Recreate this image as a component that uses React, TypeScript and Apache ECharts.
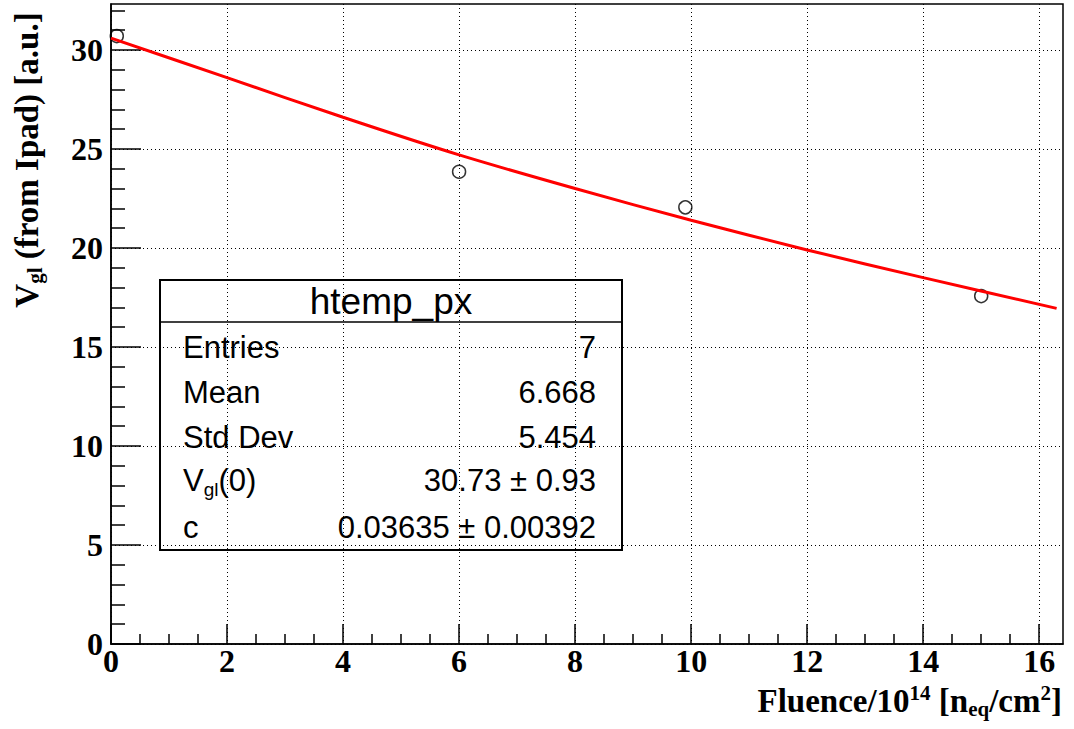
import React, { useEffect, useRef } from "react";
import * as echarts from "echarts";

const fluence = [0.1, 6.0, 9.9, 15.0];
const vgl = [30.7, 23.85, 22.05, 17.57];
const fitX = [0, 2, 4, 6, 8, 10, 12, 14, 16.3];
const fitY = [30.6, 28.6, 26.6, 24.7, 23.0, 21.4, 19.9, 18.5, 16.95];
const xMajor = [0, 2, 4, 6, 8, 10, 12, 14, 16];
const xMinor = [0.5, 1, 1.5, 2.5, 3, 3.5, 4.5, 5, 5.5, 6.5, 7, 7.5, 8.5, 9, 9.5, 10.5, 11, 11.5, 12.5, 13, 13.5, 14.5, 15, 15.5];
const yMajor = [0, 5, 10, 15, 20, 25, 30];
const yMinor = [1, 2, 3, 4, 6, 7, 8, 9, 11, 12, 13, 14, 16, 17, 18, 19, 21, 22, 23, 24, 26, 27, 28, 29, 31, 32];
const statsTitle = "htemp_px";
const statsLabels = ["Entries", "Mean", "Std Dev", "{v|V}{s|gl}{v|(0)}", "c"];
const statsValues = ["7", "6.668", "5.454", "30.73 \u00b1 0.93", "0.03635 \u00b1 0.00392"];

const X_MAX = 16.41;
const Y_MAX = 32.32;
const SERIF = "'Liberation Serif', 'Times New Roman', serif";
const SANS = "'Liberation Sans', Arial, Helvetica, sans-serif";

export default function App() {
  const ref = useRef<HTMLDivElement>(null);
  useEffect(() => {
    if (!ref.current) return;
    const chart = echarts.init(ref.current, null, { renderer: "svg" });
    const boxL = 160, boxT = 280, boxR = 622, boxB = 550;
    const rowY = [347, 392, 437, 480, 527];
    const statsChildren: any[] = [
      { type: "rect", shape: { x: boxL, y: boxT, width: boxR - boxL, height: boxB - boxT }, style: { fill: "#fff", stroke: "#000", lineWidth: 2 } },
      { type: "line", shape: { x1: boxL, y1: 322, x2: boxR, y2: 322 }, style: { stroke: "#000", lineWidth: 1.5 } },
      { type: "text", x: (boxL + boxR) / 2, y: 301, style: { text: statsTitle, font: `37px ${SANS}`, fill: "#000", align: "center", verticalAlign: "middle" } },
    ];
    statsLabels.forEach((lab, i) => {
      statsChildren.push({
        type: "text", x: 183, y: rowY[i],
        style: {
          text: lab, fontSize: 31, fontFamily: SANS, fill: "#000", align: "left", verticalAlign: "middle",
          rich: {
            v: { fontSize: 31, fontFamily: SANS, fill: "#000" },
            s: { fontSize: 19, fontFamily: SANS, fill: "#000", padding: [18, 0, 0, 0] },
          },
        },
      });
      statsChildren.push({
        type: "text", x: 596, y: rowY[i],
        style: { text: statsValues[i], fontSize: 31, fontFamily: SANS, fill: "#000", align: "right", verticalAlign: "middle" },
      });
    });

    const titleRich = {
      b: { fontSize: 33, fontFamily: SERIF, fontWeight: "bold", fill: "#000" },
      sup: { fontSize: 21, fontFamily: SERIF, fontWeight: "bold", fill: "#000", padding: [0, 0, 16, 0] },
      sub: { fontSize: 21, fontFamily: SERIF, fontWeight: "bold", fill: "#000", padding: [16, 0, 0, 0] },
    };

    const option: any = {
      animation: false,
      backgroundColor: "#fff",
      grid: { left: 111, top: 4, right: 11, bottom: 85, show: true, borderColor: "#000", borderWidth: 1.5, backgroundColor: "transparent" },
      xAxis: [
        {
          type: "value", min: 0, max: X_MAX, interval: 2,
          axisLine: { show: true, onZero: false, lineStyle: { color: "#000", width: 1.5 } },
          axisTick: { show: true, inside: true, length: 20, customValues: xMajor, lineStyle: { color: "#000", width: 1.5 } },
          axisLabel: { customValues: xMajor, color: "#000", fontFamily: SERIF, fontWeight: "bold", fontSize: 32, margin: 2, lineHeight: 30 },
          splitLine: { show: true, lineStyle: { color: "#000", width: 1, type: [1, 3] } },
        },
        {
          type: "value", min: 0, max: X_MAX, interval: 2, position: "bottom",
          axisLine: { show: false },
          axisTick: { show: true, inside: true, length: 10, customValues: xMinor, lineStyle: { color: "#000", width: 1.5 } },
          axisLabel: { show: false },
          splitLine: { show: false },
        },
      ],
      yAxis: [
        {
          type: "value", min: 0, max: Y_MAX, interval: 5,
          axisLine: { show: true, onZero: false, lineStyle: { color: "#000", width: 1.5 } },
          axisTick: { show: true, inside: true, length: 30, customValues: yMajor, lineStyle: { color: "#000", width: 1.5 } },
          axisLabel: { customValues: yMajor, color: "#000", fontFamily: SERIF, fontWeight: "bold", fontSize: 32, margin: 8 },
          splitLine: { show: true, lineStyle: { color: "#000", width: 1, type: [1, 3] } },
        },
        {
          type: "value", min: 0, max: Y_MAX, interval: 5, position: "left",
          axisLine: { show: false },
          axisTick: { show: true, inside: true, length: 14, customValues: yMinor, lineStyle: { color: "#000", width: 1.5 } },
          axisLabel: { show: false },
          splitLine: { show: false },
        },
      ],
      series: [
        {
          type: "scatter", xAxisIndex: 0, yAxisIndex: 0,
          data: fluence.map((x, i) => [x, vgl[i]]),
          symbol: "circle", symbolSize: 13,
          itemStyle: { color: "rgba(0,0,0,0)", borderColor: "#000", borderWidth: 1.5 },
          z: 2,
        },
        {
          type: "line", xAxisIndex: 0, yAxisIndex: 0,
          data: fitX.map((x, i) => [x, fitY[i]]),
          showSymbol: false, symbol: "none", smooth: 0.3,
          lineStyle: { color: "#ff0000", width: 3 },
          z: 3,
        },
      ],
      graphic: [
        { type: "group", z: 100, children: statsChildren },
        {
          type: "text", z: 100, right: 12, top: 682,
          style: {
            text: "{b|Fluence/10}{sup|14}{b| [n}{sub|eq}{b|/cm}{sup|2}{b|]}",
            rich: titleRich, fill: "#000",
          },
        },
        {
          type: "text", z: 100, x: 27, y: 160, rotation: Math.PI / 2,
          style: {
            text: "{b|V}{sub|gl}{b| (from Ipad) [a.u.]}",
            rich: titleRich, fill: "#000", align: "center", verticalAlign: "middle",
          },
        },
      ],
    };
    chart.setOption(option);
    return () => chart.dispose();
  }, []);
  return <div ref={ref} style={{ position: "fixed", left: 0, top: 0, width: 1074, height: 729 }} />;
}
